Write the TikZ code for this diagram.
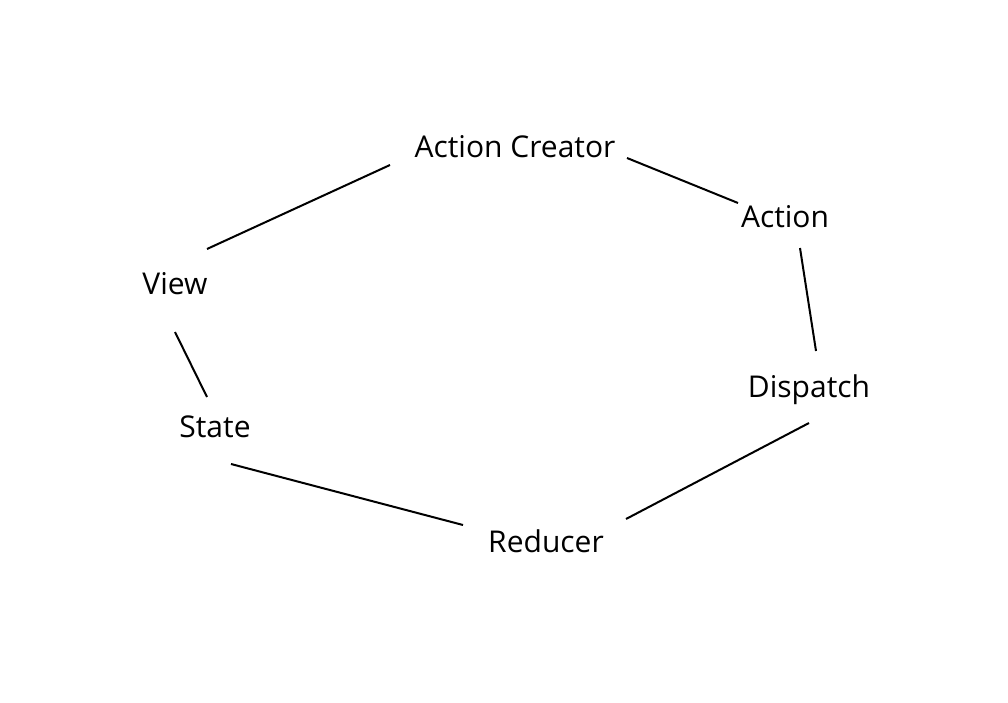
\documentclass[tikz,border=0pt]{standalone}
\usepackage{fontspec}
\setmainfont{Open Sans}
\begin{document}
\begin{tikzpicture}[x=1pt,y=-1pt,
  lbl/.style={font=\fontsize{30}{35}\selectfont, inner sep=0pt, text=black},
  link/.style={line width=2pt, black}]
\useasboundingbox[fill=white] (0,0) rectangle (1008,703);
\node[lbl] (ac) at (515,147) {Action Creator};
\node[lbl] (act) at (785,217) {Action};
\node[lbl] (v) at (175,284) {View};
\node[lbl] (d) at (809,390) {Dispatch};
\node[lbl] (s) at (215,427) {State};
\node[lbl] (r) at (546,541) {Reducer};
\draw[link] ([shift={(32,-35)}]v.center) -- ([shift={(-125,18)}]ac.center);
\draw[link] ([shift={(112,11)}]ac.center) -- ([shift={(-47,-14)}]act.center);
\draw[link] ([shift={(15,31)}]act.center) -- ([shift={(7,-39)}]d.center);
\draw[link] ([shift={(0,33)}]d.center) -- ([shift={(80,-22)}]r.center);
\draw[link] ([shift={(-83,-16)}]r.center) -- ([shift={(16,37)}]s.center);
\draw[link] ([shift={(0,48)}]v.center) -- ([shift={(-8,-30)}]s.center);
\end{tikzpicture}
\end{document}
